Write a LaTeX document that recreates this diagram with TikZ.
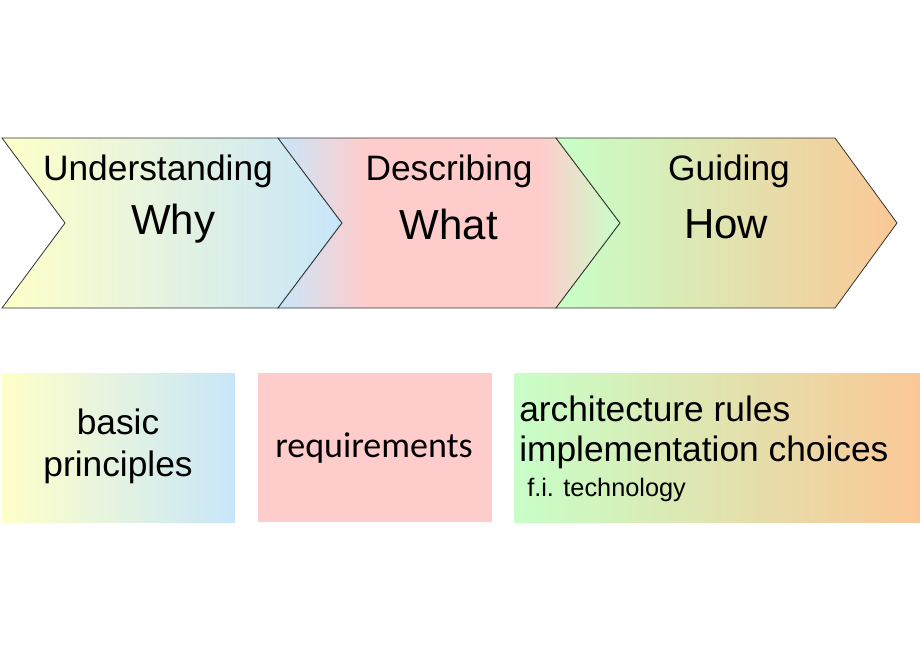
\documentclass[tikz,border=0pt]{standalone}
\usepackage{fontspec}
\setmainfont{Liberation Sans}
\newfontfamily\carl{Carlito}
\definecolor{cy}{RGB}{255,255,200}
\definecolor{cb}{RGB}{200,230,250}
\definecolor{cp}{RGB}{255,204,204}
\definecolor{cg}{RGB}{200,255,200}
\definecolor{co}{RGB}{250,200,150}
\tikzset{lbl/.style={inner sep=0pt,anchor=center},
 big/.style={lbl,font=\fontsize{31.5}{34}\selectfont},
 mid/.style={lbl,font=\fontsize{26.5}{31.5}\selectfont},
 outl/.style={draw=black!80,line width=0.6pt}}
\begin{document}
\begin{tikzpicture}[x=0.75pt,y=-0.75pt]
\useasboundingbox (0,0) rectangle (920,660);
% chevron 1
\begin{scope}
\clip (2,138)--(278,138)--(342,223)--(278,308)--(2,308)--(65,223)--cycle;
\shade[left color=cy,right color=cb] (2,138) rectangle (342,308);
\end{scope}
\draw[outl] (2,138)--(278,138)--(342,223)--(278,308)--(2,308)--(65,223)--cycle;
% chevron 2
\begin{scope}
\clip (278,138)--(556,138)--(620,223)--(556,308)--(278,308)--(342,223)--cycle;
\shade[left color=cb,right color=cp] (278,138) rectangle (366,308);
\fill[cp] (365,138) rectangle (541,308);
\shade[left color=cp,right color=cg] (540,138) rectangle (620,308);
\end{scope}
\draw[outl] (278,138)--(556,138)--(620,223)--(556,308)--(278,308)--(342,223)--cycle;
% chevron 3
\begin{scope}
\clip (556,138)--(835,138)--(897,223)--(835,308)--(556,308)--(620,223)--cycle;
\shade[left color=cg,right color=co] (556,138) rectangle (897,308);
\end{scope}
\draw[outl] (556,138)--(835,138)--(897,223)--(835,308)--(556,308)--(620,223)--cycle;
\node[mid] (u) at (158,171) {Understanding};
\node[big] (why) at (173,224) {Why};
\node[mid] (d) at (449,171) {Describing};
\node[big] (what) at (449,224) {What};
\node[mid] (g) at (729,171) {Guiding};
\node[big] (how) at (726,224) {How};
% boxes
\shade[left color=cy,right color=cb] (2,373) rectangle (235,522);
\fill[cp] (258,373) rectangle (492,522);
\shade[left color=cg,right color=co] (514,373) rectangle (920,522);
\node[mid,align=center] (bp) at (118,446) {basic\\principles};
\node[lbl,font=\carl\fontsize{27}{30}\selectfont] (req) at (374,448) {requirements};
\node[mid,anchor=west] (ar) at (519,409) {architecture rules};
\node[mid,anchor=west] (ic) at (519,452) {implementation choices};
\node[lbl,anchor=west,font=\fontsize{19}{22}\selectfont] (ft) at (527,490) {f.i. technology};
\end{tikzpicture}
\end{document}
